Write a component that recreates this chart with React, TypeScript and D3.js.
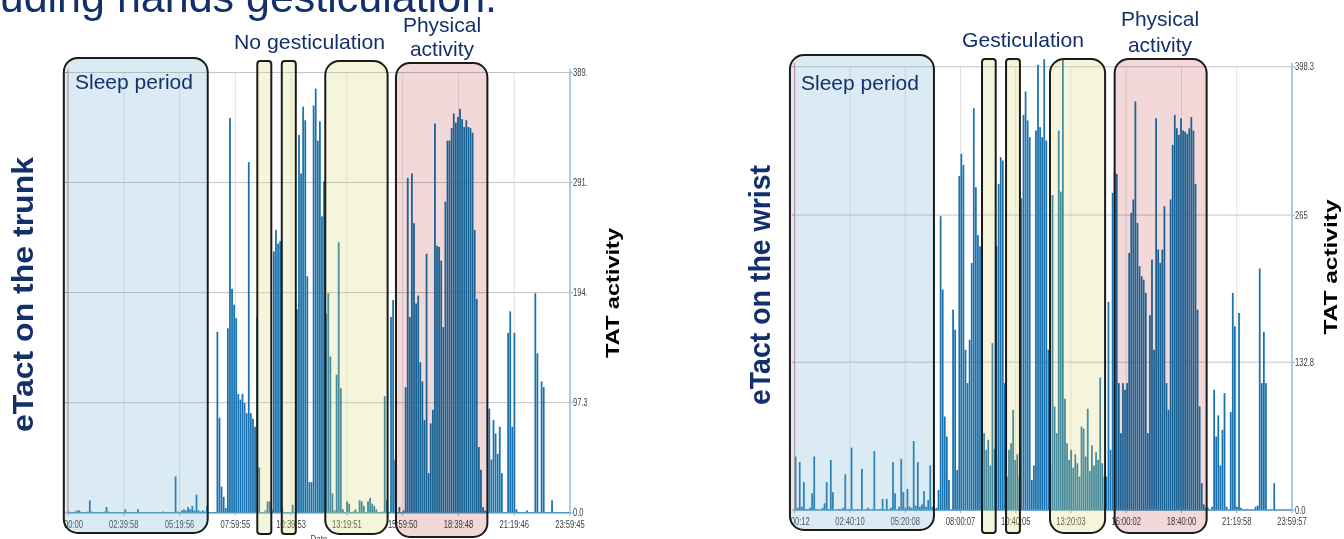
import React from 'react'
import * as d3 from 'd3'

// TAT activity, one value per 6-minute bin over the day (240 bins)
const binCount = 240

const trunkActivity = [
  1, 0, 0, 1, 2, 2, 0, 0, 0, 1, 11, 1, 0, 0, 0, 0, 0, 1, 5, 1,
  0, 0, 0, 0, 0, 0, 0, 3, 0, 0, 0, 0, 0, 3, 0, 0, 0, 0, 0, 0,
  0, 0, 0, 0, 0, 1, 0, 0, 0, 0, 0, 32, 1, 0, 2, 3, 2, 5, 3, 6,
  2, 16, 2, 1, 2, 1, 6, 0, 0, 0, 0, 160, 84, 23, 14, 4, 163, 349, 198, 184,
  172, 105, 100, 105, 97, 88, 310, 88, 83, 76, 173, 40, 0, 0, 2, 10, 10, 3, 231, 250,
  238, 240, 4, 0, 0, 0, 0, 7, 0, 180, 334, 300, 359, 347, 209, 27, 27, 360, 375, 329,
  346, 262, 293, 176, 194, 138, 17, 2, 122, 239, 110, 3, 0, 10, 8, 0, 1, 3, 0, 11,
  10, 6, 0, 10, 13, 8, 6, 3, 0, 0, 1, 103, 11, 0, 173, 188, 47, 0, 5, 0,
  2, 111, 296, 173, 300, 256, 185, 192, 133, 116, 82, 229, 35, 79, 91, 344, 236, 235, 223, 164,
  275, 329, 329, 340, 353, 345, 350, 357, 348, 341, 347, 341, 340, 336, 250, 189, 58, 38, 5, 2,
  0, 92, 47, 82, 70, 52, 76, 35, 0, 0, 159, 178, 76, 159, 3, 0, 0, 0, 0, 2,
  0, 0, 0, 194, 141, 0, 116, 111, 0, 0, 0, 11, 0, 0, 0, 0, 0, 0, 0, 0,
]

const wristActivity = [
  48, 2, 43, 3, 25, 1, 0, 2, 15, 48, 1, 0, 0, 2, 6, 25, 1, 45, 16, 0,
  0, 1, 0, 2, 32, 0, 1, 56, 0, 0, 1, 0, 37, 0, 0, 2, 0, 1, 53, 0,
  0, 1, 10, 0, 10, 0, 2, 43, 15, 0, 3, 46, 16, 2, 19, 3, 2, 62, 4, 43,
  3, 5, 17, 3, 9, 40, 3, 0, 2, 18, 264, 198, 84, 66, 27, 0, 180, 162, 36, 300,
  320, 310, 144, 114, 153, 222, 361, 290, 247, 237, 114, 69, 54, 63, 40, 150, 55, 237, 293, 317,
  314, 114, 30, 54, 60, 90, 45, 50, 30, 280, 355, 376, 350, 335, 27, 40, 341, 400, 344, 335,
  405, 332, 144, 40, 283, 93, 69, 341, 286, 405, 100, 60, 45, 54, 38, 50, 42, 30, 75, 73,
  48, 91, 35, 58, 40, 52, 45, 119, 42, 30, 30, 187, 54, 285, 304, 302, 114, 69, 114, 108,
  114, 231, 267, 279, 367, 258, 219, 210, 207, 195, 69, 175, 225, 144, 352, 234, 222, 234, 273, 114,
  90, 279, 328, 355, 343, 337, 352, 341, 340, 338, 343, 353, 341, 293, 180, 93, 24, 5, 2, 2,
  0, 3, 108, 66, 85, 40, 72, 105, 3, 0, 88, 195, 165, 3, 177, 2, 0, 0, 1, 0,
  0, 0, 3, 4, 217, 114, 160, 114, 0, 0, 0, 24, 0, 0, 0, 0, 0, 0, 0, 0,
]

const trunkTimeLabels = ['00:00', '02:39:58', '05:19:56', '07:59:55', '10:39:53', '13:19:51', '15:59:50', '18:39:48', '21:19:46', '23:59:45']
const wristTimeLabels = ['00:12', '02:40:10', '05:20:08', '08:00:07', '10:40:05', '13:20:03', '16:00:02', '18:40:00', '21:19:58', '23:59:57']

const trunkValueTicks = [0, 97.3, 194.6, 291.9, 389.2]
const trunkValueLabels = ['0.0', '97.3', '194.6', '291.9', '389.2']
const wristValueTicks = [0, 132.8, 265, 398.3]
const wristValueLabels = ['0.0', '132.8', '265', '398.3']

// annotated periods, hours of the day
const trunkPeriods = [
  { kind: 'sleep', from: -0.2, to: 6.68 },
  { kind: 'still', from: 9.05, to: 9.72 },
  { kind: 'still', from: 10.22, to: 10.89 },
  { kind: 'still', from: 12.3, to: 15.28 },
  { kind: 'sport', from: 15.68, to: 20.05 },
]
const wristPeriods = [
  { kind: 'sleep', from: -0.23, to: 6.72 },
  { kind: 'still', from: 9.04, to: 9.7 },
  { kind: 'still', from: 10.2, to: 10.87 },
  { kind: 'still', from: 12.32, to: 14.98 },
  { kind: 'sport', from: 15.44, to: 19.88 },
]

const NAVY = '#13306c'
const FONT = '"Liberation Sans", Arial, sans-serif'
const BAR = '#1a73ae'

const periodStyle: Record<string, { fill: string, opacity: number, blend: string }> = {
  sleep: { fill: '#6fafcf', opacity: 0.25, blend: 'normal' },
  still: { fill: '#d3d76b', opacity: 0.25, blend: 'normal' },
  sport: { fill: '#f3d8d9', opacity: 1, blend: 'multiply' },
}

const panels = [
  {
    id: 'trunk', values: trunkActivity, timeLabels: trunkTimeLabels, valueTicks: trunkValueTicks,
    valueLabels: trunkValueLabels, periods: trunkPeriods, max: 389.2,
    x0: 68, x1: 570, base: 512.7, top: 72.5, clipTop: 60, labelClip: 587,
    boxY: { sleep: [58, 533], still: [61, 534], sport: [63, 537] } as Record<string, number[]>,
  },
  {
    id: 'wrist', values: wristActivity, timeLabels: wristTimeLabels, valueTicks: wristValueTicks,
    valueLabels: wristValueLabels, periods: wristPeriods, max: 398.3,
    x0: 794.7, x1: 1292, base: 510, top: 66.7, clipTop: 58, labelClip: 1330,
    boxY: { sleep: [55, 530], still: [59, 533], sport: [59, 533] } as Record<string, number[]>,
  },
]

function Panel({ p }: { p: typeof panels[number] }) {
  const x = d3.scaleLinear().domain([0, 24]).range([p.x0, p.x1])
  const y = d3.scaleLinear().domain([0, p.max]).range([p.base, p.top])
  const binHours = 24 / binCount
  const tickHours = p.timeLabels.map((_, i) => (i * 24) / (p.timeLabels.length - 1))

  return (
    <g>
      <defs>
        <clipPath id={`bars-${p.id}`}>
          <rect x={p.x0} y={p.clipTop} width={p.x1 - p.x0} height={p.base - p.clipTop} />
        </clipPath>
        <clipPath id={`ylab-${p.id}`}>
          <rect x={p.x1} y={0} width={p.labelClip - p.x1} height={539} />
        </clipPath>
      </defs>

      {/* vertical grid */}
      {tickHours.map((h, i) => (
        <line key={`vg${i}`} x1={x(h)} x2={x(h)} y1={p.top} y2={p.base} stroke="#e3e3e3" strokeWidth={1} />
      ))}
      {/* horizontal grid */}
      {p.valueTicks.map((t, i) => (
        <line key={`hg${i}`} x1={p.x0} x2={p.x1} y1={y(t)} y2={y(t)} stroke="#c4c4c4" strokeWidth={1} />
      ))}

      <g clipPath={`url(#bars-${p.id})`}>
        {p.values.map((v, i) => {
          const bx = x(i * binHours)
          const bw = x((i + 1) * binHours) - bx
          return v > 0 ? (
            <rect key={i} x={bx} y={y(v)} width={bw * 0.85} height={p.base - y(v)} fill={BAR} />
          ) : null
        })}
      </g>

      {/* axes */}
      <line x1={p.x0} x2={p.x1} y1={p.base} y2={p.base} stroke="#4f98c2" strokeWidth={1.5} />
      <line x1={p.x0} x2={p.x0} y1={p.top - 4} y2={p.base} stroke="#d27a7a" strokeWidth={1} />
      {p.valueTicks.map((t, i) => (
        <line key={`rt${i}`} x1={p.x0 - 3} x2={p.x0} y1={y(t)} y2={y(t)} stroke="#d27a7a" />
      ))}
      <line x1={p.x1} x2={p.x1} y1={p.top - 4} y2={p.base} stroke="#92c0de" strokeWidth={1.5} />
      {p.valueTicks.map((t, i) => (
        <line key={`yt${i}`} x1={p.x1} x2={p.x1 + 3} y1={y(t)} y2={y(t)} stroke="#92c0de" strokeWidth={1.2} />
      ))}
      {tickHours.map((h, i) => (
        <line key={`xt${i}`} x1={x(h)} x2={x(h)} y1={p.base} y2={p.base + 3} stroke="#7fb1cf" />
      ))}

      {/* tick labels */}
      {p.timeLabels.map((lab, i) => (
        <text key={`xl${i}`} transform={`translate(${i === 0 ? x(0) - 4 : x(tickHours[i])},${p.base + 15}) scale(1,1.4)`}
          textAnchor={i === 0 ? 'start' : 'middle'} fontFamily={FONT} fontSize={7.6} fill="#3d3d3d">{lab}</text>
      ))}
      <g clipPath={`url(#ylab-${p.id})`}>
        {p.valueLabels.map((lab, i) => (
          <text key={`yl${i}`} transform={`translate(${p.x1 + 3},${y(p.valueTicks[i]) + 3.6}) scale(1,1.4)`}
            fontFamily={FONT} fontSize={7.6} fill="#3d3d3d">{lab}</text>
        ))}
      </g>

      {/* annotation boxes */}
      {p.periods.map((r, i) => {
        const bx0 = x(r.from)
        const bx1 = x(r.to)
        const [t, b] = p.boxY[r.kind]
        const w = bx1 - bx0
        const rad = w < 20 ? 3 : 14
        const st = periodStyle[r.kind]
        return (
          <g key={`pb${i}`}>
            <rect x={bx0} y={t} width={w} height={b - t} rx={rad} ry={rad}
              fill={st.fill} fillOpacity={st.opacity} style={{ mixBlendMode: st.blend as any }} />
            <rect x={bx0} y={t} width={w} height={b - t} rx={rad} ry={rad}
              fill="none" stroke="#1b1b1b" strokeWidth={2} />
          </g>
        )
      })}
    </g>
  )
}

export default function App() {
  return (
    <svg width={1344} height={539} style={{ position: 'fixed', left: 0, top: 0, background: '#fff' }}>
      <rect width={1344} height={539} fill="#fff" />
      <text x={497} y={12} textAnchor="end" fontFamily={FONT} fontSize={43} fill={NAVY}>including hands gesticulation.</text>

      {panels.map(p => <Panel key={p.id} p={p} />)}

      {/* slide annotations */}
      <text x={75} y={89} fontFamily={FONT} fontSize={21} fill={NAVY}>Sleep period</text>
      <text x={801} y={90} fontFamily={FONT} fontSize={21} fill={NAVY}>Sleep period</text>

      <text x={234} y={49} fontFamily={FONT} fontSize={21} fill={NAVY} textLength={151} lengthAdjust="spacingAndGlyphs">No gesticulation</text>
      <text x={442} y={32} textAnchor="middle" fontFamily={FONT} fontSize={21} fill={NAVY}>Physical</text>
      <text x={442} y={56} textAnchor="middle" fontFamily={FONT} fontSize={21} fill={NAVY}>activity</text>

      <text x={962} y={47} fontFamily={FONT} fontSize={21} fill={NAVY} textLength={122} lengthAdjust="spacingAndGlyphs">Gesticulation</text>
      <text x={1160} y={26} textAnchor="middle" fontFamily={FONT} fontSize={21} fill={NAVY}>Physical</text>
      <text x={1160} y={52} textAnchor="middle" fontFamily={FONT} fontSize={21} fill={NAVY}>activity</text>

      <text transform="translate(33,294.5) rotate(-90)" textAnchor="middle" fontFamily={FONT} fontWeight="bold"
        fontSize={29} fill={NAVY} textLength={275} lengthAdjust="spacingAndGlyphs">eTact on the trunk</text>
      <text transform="translate(770,285) rotate(-90)" textAnchor="middle" fontFamily={FONT} fontWeight="bold"
        fontSize={29} fill={NAVY} textLength={240} lengthAdjust="spacingAndGlyphs">eTact on the wrist</text>

      <text transform="translate(619,293) rotate(-90)" textAnchor="middle" fontFamily={FONT} fontWeight="bold"
        fontSize={19} fill="#000" textLength={130} lengthAdjust="spacingAndGlyphs">TAT activity</text>
      <text transform="translate(1337,267) rotate(-90)" textAnchor="middle" fontFamily={FONT} fontWeight="bold"
        fontSize={19} fill="#000" textLength={135} lengthAdjust="spacingAndGlyphs">TAT activity</text>

      <text transform="translate(319,543) scale(1,1.4)" textAnchor="middle" fontFamily={FONT} fontSize={8} fill="#444">Date</text>
    </svg>
  )
}
